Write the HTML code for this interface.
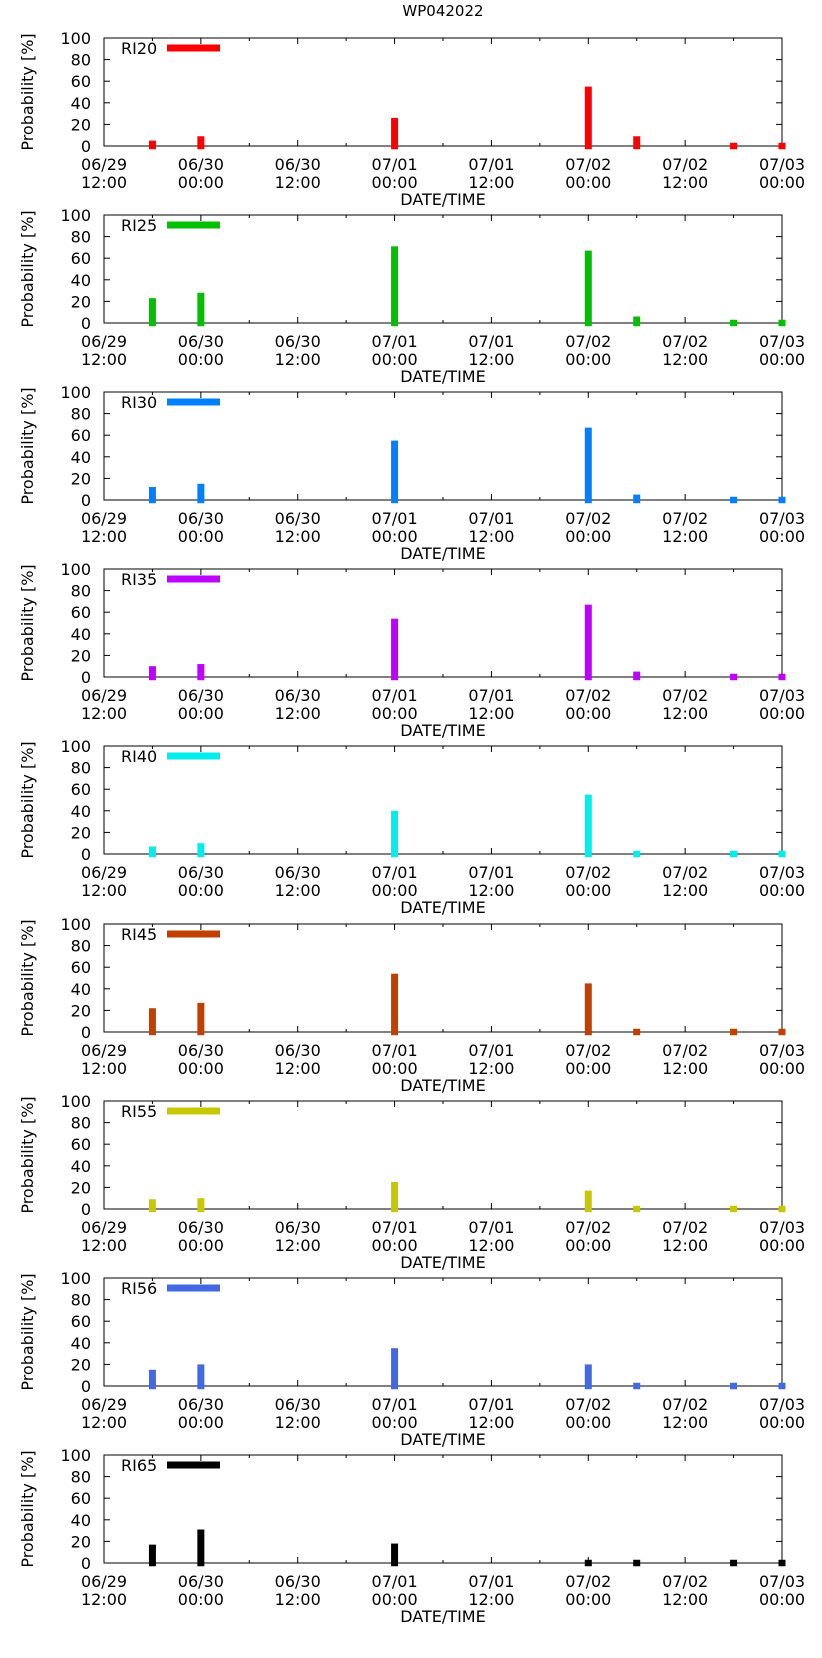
<!DOCTYPE html>
<html><head><meta charset="utf-8"><style>
body{margin:0;background:#fff;}
svg text{font-family:"DejaVu Sans","Liberation Sans",sans-serif;fill:#000;}
</style></head><body>
<svg id="chart" width="822" height="1653" viewBox="0 0 822 1653" xmlns="http://www.w3.org/2000/svg">
<text x="443" y="16" font-size="15" text-anchor="middle">WP042022</text>
</svg>
<script>
const seriesNames = ["RI20","RI25","RI30","RI35","RI40","RI45","RI55","RI56","RI65"];
const seriesColors = ["#ff0000","#00c000","#0080ff","#c000ff","#00eeee","#c04000","#c8c800","#4169e1","#000000"];
const barHours = [6, 12, 36, 60, 66, 78, 84];
const ri20 = [5, 9, 26, 55, 9, 3, 3];
const ri25 = [23, 28, 71, 67, 6, 3, 3];
const ri30 = [12, 15, 55, 67, 5, 3, 3];
const ri35 = [10, 12, 54, 67, 5, 3, 3];
const ri40 = [7, 10, 40, 55, 3, 3, 3];
const ri45 = [22, 27, 54, 45, 3, 3, 3];
const ri55 = [9, 10, 25, 17, 3, 3, 3];
const ri56 = [15, 20, 35, 20, 3, 3, 3];
const ri65 = [17, 31, 18, 3, 3, 3, 3];
const allSeries = [ri20, ri25, ri30, ri35, ri40, ri45, ri55, ri56, ri65];
const xTickLine1 = ["06/29","06/30","06/30","07/01","07/01","07/02","07/02","07/03"];
const xTickLine2 = ["12:00","00:00","12:00","00:00","12:00","00:00","12:00","00:00"];
const yTicks = [0, 20, 40, 60, 80, 100];

const NS = "http://www.w3.org/2000/svg";
const svg = document.getElementById("chart");
const L = 104, R = 782, H = 108, STEP = 177.1, TOP0 = 38, XMAX = 84;
function mk(tag, attrs, parent) {
  const e = document.createElementNS(NS, tag);
  for (const k in attrs) e.setAttribute(k, attrs[k]);
  (parent || svg).appendChild(e);
  return e;
}
const xs = h => L + (R - L) * h / XMAX;

seriesNames.forEach((name, i) => {
  const top = Math.round(TOP0 + i * STEP);
  const bot = top + H;
  const ys = v => bot - H * v / 100;
  const g = mk("g", {});
  
  
  // frame
  const fr = mk("rect", {x: L, y: top, width: R - L, height: H, fill: "none", stroke: "#000", "stroke-width": 1}, g);
  
  
  // y ticks
  yTicks.forEach(t => {
    const y = ys(t);
    mk("line", {x1: L, x2: L + 6, y1: y, y2: y, stroke: "#000"}, g);
    mk("line", {x1: R, x2: R - 6, y1: y, y2: y, stroke: "#000"}, g);
    const tx = mk("text", {x: 91, y: y + 6, "font-size": 16, "text-anchor": "end"}, g);
    tx.textContent = t;
    
    
  });
  // x ticks
  for (let h = 0; h <= XMAX; h += 6) {
    const x = xs(h), len = (h % 12 === 0) ? 6 : 3;
    mk("line", {x1: x, x2: x, y1: bot, y2: bot - len, stroke: "#000"}, g);
    mk("line", {x1: x, x2: x, y1: top, y2: top + len, stroke: "#000"}, g);
  }
  xTickLine1.forEach((lab, k) => {
    const x = xs(k * 12);
    const t1 = mk("text", {x: x, y: bot + 24, "font-size": 16, "text-anchor": "middle"}, g);
    t1.textContent = lab;
    
    
    const t2 = mk("text", {x: x, y: bot + 42, "font-size": 16, "text-anchor": "middle"}, g);
    t2.textContent = xTickLine2[k];
    
    
  });
  const xt = mk("text", {x: (L + R) / 2, y: bot + 59, "font-size": 16, "text-anchor": "middle"}, g);
  xt.textContent = "DATE/TIME";
  
  
  const yt = mk("text", {x: 0, y: 0, "font-size": 16, "text-anchor": "middle", transform: `translate(33,${top + H / 2}) rotate(-90)`}, g);
  yt.textContent = "Probability [%]";
  
  
  // bars
  allSeries[i].forEach((v, k) => {
    const x = xs(barHours[k]);
    const y1 = ys(v), y2 = ys(-3);
    const b = mk("rect", {x: x - 3.5, y: y1, width: 7, height: y2 - y1, fill: seriesColors[i]}, g);
    
    
  });
  // legend
  const lt = mk("text", {x: 121, y: top + 16, "font-size": 16}, g);
  lt.textContent = name;
  
  
  const ll = mk("rect", {x: 167, y: top + 6.5, width: 53, height: 7, fill: seriesColors[i]}, g);
  
  
});
</script>
</body></html>
